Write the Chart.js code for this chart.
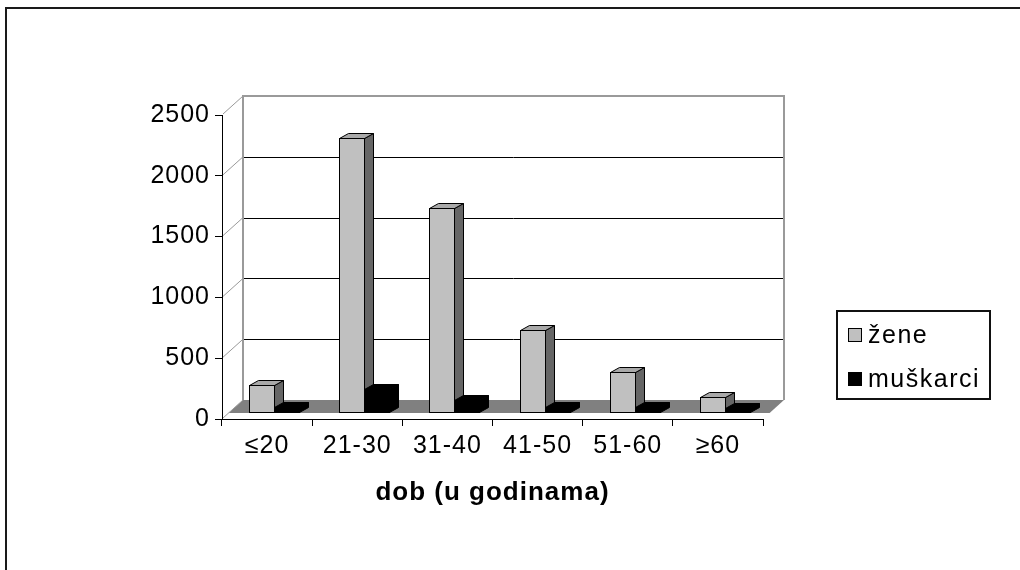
<!DOCTYPE html>
<html>
<head>
<meta charset="utf-8">
<script src="https://cdn.jsdelivr.net/npm/chart.js@4/dist/chart.umd.min.js"></script>
<style>
  html, body { margin: 0; padding: 0; background: #fff; }
  canvas { display: block; }
</style>
</head>
<body>
<canvas id="grafikon" width="1020" height="570"></canvas>
<script>
// kategorije i vrijednosti
var kategorije = ['≤20', '21-30', '31-40', '41-50', '51-60', '≥60'];
var zene = [220, 2250, 1680, 675, 330, 125];
var muskarci = [45, 190, 100, 45, 40, 30];
var yMax = 2500;
var yKorak = 500;

// 3D pomaci (piksela)
var bar3d = { ox: 7, oy: -7, dx: 9, dy: -5 };
var zid = { wx: 21, wy: -19 };

var boje = {
    zene: { front: '#c0c0c0', top: '#a9a9a9', side: '#666666' },
    muskarci: { front: '#000000', top: '#000000', side: '#000000' }
};

Chart.defaults.font.family = "'Liberation Sans', Arial, sans-serif";
Chart.defaults.color = '#000';

var pozadina = {
    id: 'pozadina',
    beforeDraw: function (chart) {
        var ctx = chart.ctx;
        ctx.save();
        ctx.fillStyle = '#fff';
        ctx.fillRect(0, 0, chart.width, chart.height);
        ctx.fillStyle = '#1a1a1a';
        ctx.fillRect(5, 7, chart.width - 5, 2);
        ctx.fillRect(5, 7, 2, chart.height - 7);
        ctx.restore();
        // malo razmaka izmedu slova, kao na originalu
        ctx.letterSpacing = '1px';
    }
};

var treciD = {
    id: 'treciD',
    beforeDatasetsDraw: function (chart) {
        var ctx = chart.ctx, a = chart.chartArea;
        var y = chart.scales.y;
        var y0 = y.getPixelForValue(0);
        var L = a.left + zid.wx, R = a.right + zid.wx;
        var T = y.getPixelForValue(yMax) + zid.wy, B = y0 + zid.wy;
        ctx.save();

        // pod
        var f = 6, fx = f * zid.wx / -zid.wy;
        ctx.fillStyle = '#808080';
        ctx.beginPath();
        ctx.moveTo(a.left + fx, y0 - f);
        ctx.lineTo(a.right + fx, y0 - f);
        ctx.lineTo(R, B);
        ctx.lineTo(L, B);
        ctx.closePath();
        ctx.fill();

        // linije mreze na zidu
        ctx.lineWidth = 1;
        for (var v = yKorak; v < yMax; v += yKorak) {
            var py = Math.round(y.getPixelForValue(v) + zid.wy) + 0.5;
            ctx.strokeStyle = '#000';
            ctx.beginPath();
            ctx.moveTo(L, py);
            ctx.lineTo(R, py);
            ctx.stroke();
        }
        // kose linije
        ctx.strokeStyle = '#9a9a9a';
        for (var w = 0; w <= yMax; w += yKorak) {
            var p = y.getPixelForValue(w);
            ctx.beginPath();
            ctx.moveTo(a.left + 1, p - 1);
            ctx.lineTo(L, p + zid.wy);
            ctx.stroke();
        }
        // okvir zida
        ctx.strokeStyle = '#9a9a9a';
        ctx.lineWidth = 2;
        ctx.beginPath();
        ctx.moveTo(L, B);
        ctx.lineTo(L, T);
        ctx.lineTo(R, T);
        ctx.lineTo(R, B);
        ctx.stroke();

        // stupci, kategoriju po kategoriju
        ctx.lineWidth = 1;
        ctx.strokeStyle = '#000';
        var skupovi = [boje.zene, boje.muskarci];
        for (var j = 0; j < kategorije.length; j++) {
            for (var i = 0; i < 2; i++) {
                var el = chart.getDatasetMeta(i).data[j];
                var c = skupovi[i];
                var l = Math.round(el.x - el.width / 2 + bar3d.ox) + 0.5;
                var r = Math.round(el.x + el.width / 2 + bar3d.ox) + 0.5;
                var t = Math.round(el.y + bar3d.oy) + 0.5;
                var b = Math.round(el.base + bar3d.oy) + 0.5;
                // bocna strana
                ctx.fillStyle = c.side;
                ctx.beginPath();
                ctx.moveTo(r, t);
                ctx.lineTo(r + bar3d.dx, t + bar3d.dy);
                ctx.lineTo(r + bar3d.dx, b + bar3d.dy);
                ctx.lineTo(r, b);
                ctx.closePath();
                ctx.fill();
                ctx.stroke();
                // gornja strana
                ctx.fillStyle = c.top;
                ctx.beginPath();
                ctx.moveTo(l, t);
                ctx.lineTo(l + bar3d.dx, t + bar3d.dy);
                ctx.lineTo(r + bar3d.dx, t + bar3d.dy);
                ctx.lineTo(r, t);
                ctx.closePath();
                ctx.fill();
                ctx.stroke();
                // prednja strana
                ctx.fillStyle = c.front;
                ctx.fillRect(l, t, r - l, b - t);
                ctx.strokeRect(l, t, r - l, b - t);
            }
        }
        ctx.restore();
        return false;
    },
    afterDraw: function (chart) {
        var ctx = chart.ctx;
        ctx.save();
        // legenda
        ctx.strokeStyle = '#111';
        ctx.lineWidth = 2;
        ctx.strokeRect(837, 311, 153, 88);
        var stavke = [
            { tekst: 'žene', boja: boje.zene.front, y: 335 },
            { tekst: 'muškarci', boja: boje.muskarci.front, y: 379 }
        ];
        ctx.lineWidth = 1;
        ctx.font = "25px 'Liberation Sans', Arial, sans-serif";
        ctx.letterSpacing = '1.5px';
        ctx.textBaseline = 'middle';
        stavke.forEach(function (s) {
            ctx.fillStyle = s.boja;
            ctx.fillRect(848.5, s.y - 6.5, 13, 13);
            ctx.strokeStyle = '#000';
            ctx.strokeRect(848.5, s.y - 6.5, 13, 13);
            ctx.fillStyle = '#000';
            ctx.fillText(s.tekst, 868, s.y + 1);
        });
        ctx.restore();
    }
};

var ctx = document.getElementById('grafikon').getContext('2d');

var grafikon = new Chart(ctx, {
    type: 'bar',
    data: {
        labels: kategorije,
        datasets: [
            { label: 'žene', data: zene, backgroundColor: boje.zene.front },
            { label: 'muškarci', data: muskarci, backgroundColor: boje.muskarci.front }
        ]
    },
    options: {
        responsive: false,
        animation: false,
        devicePixelRatio: 1,
        layout: { padding: { top: 115, right: 257, left: 0, bottom: 0 } },
        categoryPercentage: 0.555,
        barPercentage: 1,
        plugins: { legend: { display: false }, tooltip: { enabled: false } },
        scales: {
            x: {
                grid: { offset: true, drawOnChartArea: false, drawTicks: true, tickLength: 7, color: '#000' },
                border: { color: '#000', width: 1 },
                ticks: { font: { size: 25 }, color: '#000', padding: 5 },
                title: {
                    display: true,
                    text: 'dob (u godinama)',
                    font: { size: 26, weight: 'bold' },
                    color: '#000',
                    padding: { top: 0, bottom: 62 }
                },
                afterFit: function (s) { s.height = 151; }
            },
            y: {
                min: 0,
                max: yMax,
                ticks: {
                    stepSize: yKorak,
                    font: { size: 25 },
                    color: '#000',
                    padding: 5,
                    callback: function (v) { return String(v); }
                },
                grid: { drawOnChartArea: false, drawTicks: true, tickLength: 7, color: '#000' },
                border: { color: '#000', width: 1 },
                afterFit: function (s) { s.width = 222; }
            }
        }
    },
    plugins: [pozadina, treciD]
});
</script>
</body>
</html>
